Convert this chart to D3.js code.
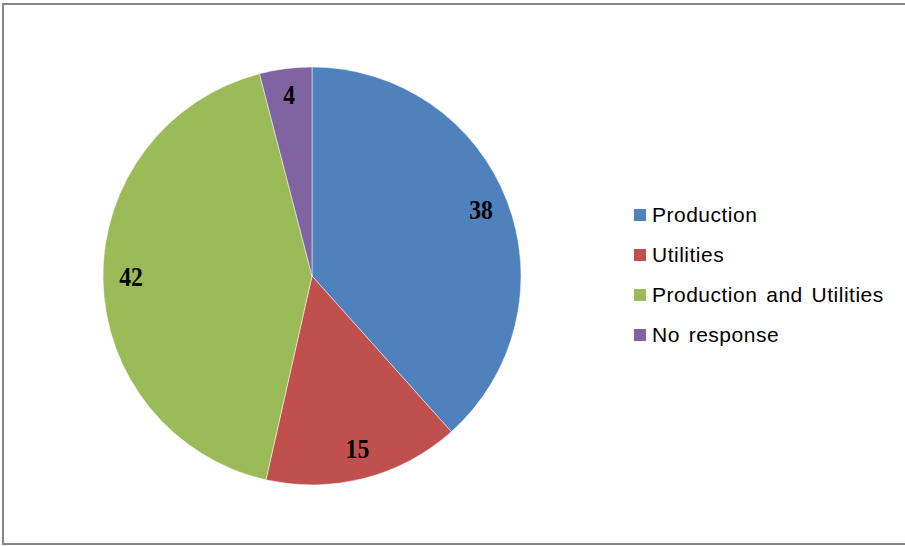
<!DOCTYPE html>
<html><head><meta charset="utf-8">
<script src="https://cdn.jsdelivr.net/npm/d3@7"></script>
<style>body{margin:0;background:#fff}</style>
</head><body>
<svg id="c" width="905" height="546"></svg>
<script>
const categories = ["Production", "Utilities", "Production and Utilities", "No response"];
const values = [38, 15, 42, 4];
const colors = ["#4F81BD", "#C0504D", "#9BBB59", "#8064A2"];

const svg = d3.select("#c");
svg.append("rect").attr("x", 3).attr("y", 4).attr("width", 905).attr("height", 540)
  .attr("fill", "#fff").attr("stroke", "#868686").attr("stroke-width", 2);

const cx = 312, cy = 276, r = 209;
const g = svg.append("g").attr("transform", `translate(${cx},${cy})`);
const pie = d3.pie().sort(null).value(d => d.v);
const data = categories.map((c, i) => ({c, v: values[i], col: colors[i]}));
const arcs = pie(data);
const arc = d3.arc().innerRadius(0).outerRadius(r);
const lab = d3.arc().innerRadius(181).outerRadius(181);

g.selectAll("path").data(arcs).join("path")
  .attr("d", arc).attr("fill", d => d.data.col)
  .attr("stroke", "#fff").attr("stroke-width", 0.8).attr("stroke-opacity", 0.6);

g.selectAll("text").data(arcs).join("text")
  .attr("transform", d => `translate(${lab.centroid(d)}) scale(0.88,1)`)
  .attr("text-anchor", "middle").attr("dy", "0.27em")
  .attr("font-family", "Liberation Serif").attr("font-weight", "bold").attr("font-size", 27)
  .attr("fill", "#000").text(d => d.data.v);

const lg = svg.append("g");
const rows = lg.selectAll("g").data(data).join("g")
  .attr("transform", (d, i) => `translate(634,${222 + i * 40})`);
rows.append("rect").attr("x", 0).attr("y", -13).attr("width", 12).attr("height", 12).attr("fill", d => d.col);
rows.append("text").attr("x", 18)
  .attr("font-family", "Liberation Sans").attr("font-size", 21).attr("fill", "#000")
  .attr("letter-spacing", 0.5).attr("word-spacing", 2.5)
  .text(d => d.c);
</script>
</body></html>
